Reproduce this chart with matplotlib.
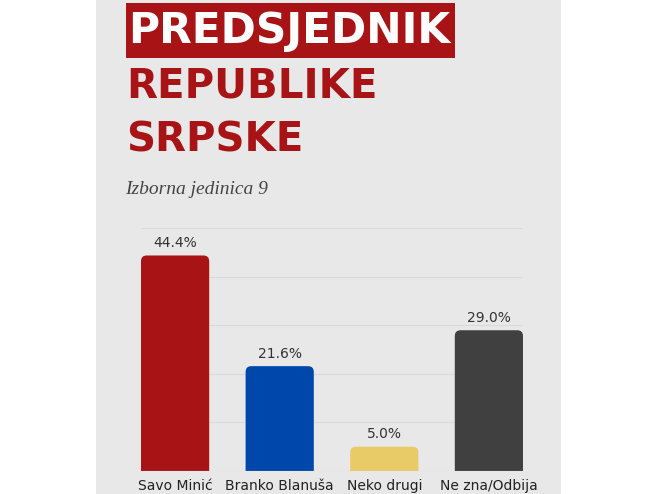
import matplotlib
matplotlib.use('Agg')
import matplotlib.pyplot as plt
from matplotlib.patches import Rectangle, FancyBboxPatch

# Poll results, Izborna jedinica 9
candidates = ['Savo Minić', 'Branko Blanuša', 'Neko drugi', 'Ne zna/Odbija']
shares = [44.4, 21.6, 5.0, 29.0]
bar_colors = ['#A81316', '#0047AB', '#E8CB67', '#404040']
grid_ticks = [10, 20, 30, 40, 50]

W, H = 658, 494
fig = plt.figure(figsize=(W / 100, H / 100), dpi=100)
fig.patch.set_facecolor('white')

# grey card behind everything
fig.patches.append(Rectangle((96 / W, 0), (561 - 96) / W, 1, transform=fig.transFigure,
                             facecolor='#E8E8E8', edgecolor='none', zorder=0))

# title block
fig.patches.append(Rectangle((126 / W, 1 - 58 / H), (455 - 126) / W, 55 / H,
                             transform=fig.transFigure, facecolor='#A81316',
                             edgecolor='none', zorder=1))
fig.text(128 / W, 1 - 31 / H, 'PREDSJEDNIK', color='white', fontsize=30.5,
         fontfamily='DejaVu Sans', fontweight='bold', va='center', ha='left')
fig.text(126 / W, 1 - 86 / H, 'REPUBLIKE', color='#A81316', fontsize=29,
         fontfamily='DejaVu Sans', fontweight='bold', va='center', ha='left')
fig.text(126 / W, 1 - 141 / H, 'SRPSKE', color='#A81316', fontsize=29,
         fontfamily='DejaVu Sans', fontweight='bold', va='center', ha='left')
fig.text(125 / W, 1 - 189 / H, 'Izborna jedinica 9', color='#444444', fontsize=14,
         fontfamily='Liberation Serif', fontstyle='italic', va='center', ha='left')

ax = fig.add_axes([141 / W, 1 - 471 / H, (523 - 141) / W, (471 - 228.3) / H])
ax.set_zorder(5)
ax.set_facecolor('none')
x = range(len(candidates))
bars = ax.bar(x, shares, width=0.652, color=bar_colors, alpha=0)
ax.set_xlim(-0.326, len(candidates) - 1 + 0.326)
ax.set_ylim(0, 50)

# rounded tops: swap every bar for a rounded box that dips below the baseline
rx = 0.055
ry = 1.2
for b, c in zip(bars, bar_colors):
    box = FancyBboxPatch((b.get_x(), -5), b.get_width(), b.get_height() + 5,
                         boxstyle='round,pad=0,rounding_size=%f' % rx,
                         mutation_aspect=ry / rx, facecolor=c, edgecolor='none',
                         zorder=3)
    ax.add_patch(box)
    ax.text(b.get_x() + b.get_width() / 2, b.get_height() + 1.1, '%.1f%%' % b.get_height(),
            ha='center', va='bottom', fontsize=10, color='#333333')

for t in grid_ticks:
    ax.axhline(t, color='#DADADA', lw=0.8, zorder=1)
ax.axhline(0, color='#D0D0D0', lw=0.8, zorder=4)

ax.set_xticks(list(x))
ax.set_xticklabels(candidates, fontsize=10, color='#222222')
ax.tick_params(axis='x', length=0, pad=6)
ax.set_yticks([])
for s in ax.spines.values():
    s.set_visible(False)

fig.savefig('out.png', dpi=100, facecolor='white')
